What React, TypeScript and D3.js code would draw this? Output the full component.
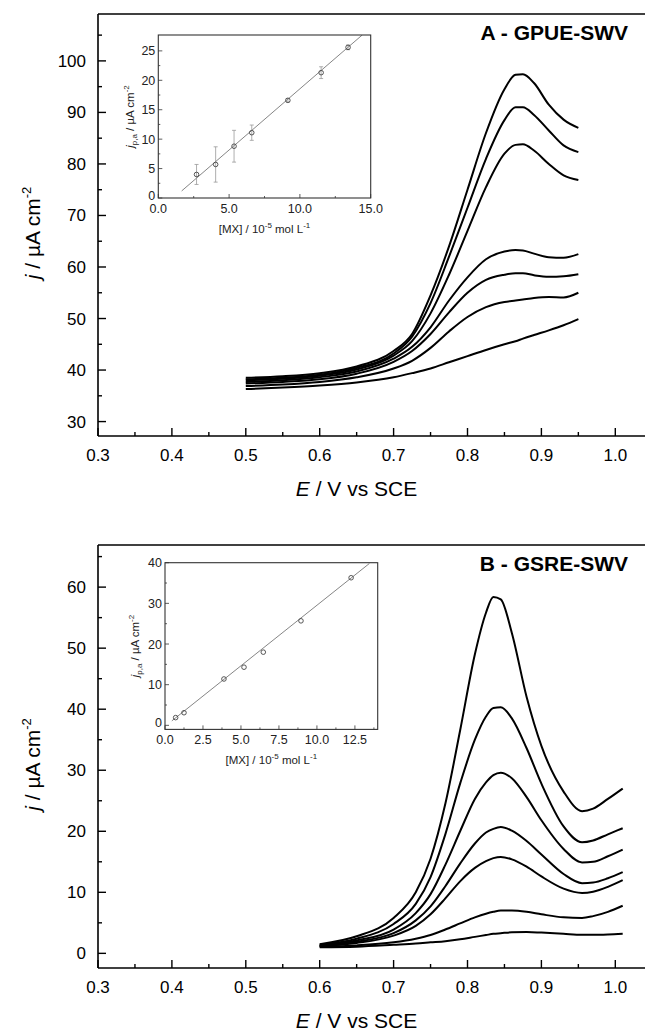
import React from 'react';
import * as d3 from 'd3';

// ---------- Panel A (GPUE-SWV) ----------
const A_E = [0.5, 0.55, 0.6, 0.65, 0.7, 0.725, 0.75, 0.775, 0.8, 0.825, 0.85, 0.865, 0.875, 0.89, 0.91, 0.93, 0.95];
const A_J1 = [36.3, 36.6, 37.0, 37.6, 38.6, 39.4, 40.3, 41.5, 42.7, 43.9, 45.0, 45.6, 46.1, 46.8, 47.7, 48.7, 49.9];
const A_J2 = [36.9, 37.2, 37.7, 38.6, 40.3, 41.8, 44.3, 47.5, 50.3, 52.2, 53.2, 53.5, 53.7, 54.0, 54.2, 54.1, 55.0];
const A_J3 = [37.4, 37.7, 38.2, 39.3, 41.6, 43.7, 47.0, 51.2, 55.0, 57.5, 58.5, 58.8, 58.8, 58.4, 58.1, 58.2, 58.6];
const A_J4 = [37.7, 38.0, 38.6, 39.7, 42.2, 44.5, 48.3, 53.5, 58.0, 61.5, 63.0, 63.3, 63.2, 62.6, 61.9, 61.8, 62.5];
const A_J5 = [38.0, 38.3, 38.9, 40.1, 42.8, 45.6, 51.0, 58.5, 67.0, 75.5, 82.0, 83.7, 83.8, 82.6, 80.0, 77.8, 76.9];
const A_J6 = [38.2, 38.5, 39.1, 40.4, 43.2, 46.5, 53.0, 62.0, 71.5, 81.0, 88.5, 91.0, 91.0, 89.5, 86.5, 83.6, 82.3];
const A_J7 = [38.5, 38.8, 39.4, 40.7, 43.7, 47.0, 54.5, 64.0, 75.0, 86.0, 94.5, 97.3, 97.4, 95.7, 91.5, 88.6, 87.0];
const A_SERIES = [A_J1, A_J2, A_J3, A_J4, A_J5, A_J6, A_J7];

// ---------- Panel B (GSRE-SWV) ----------
const B_E = [0.6, 0.65, 0.7, 0.73, 0.75, 0.77, 0.79, 0.81, 0.825, 0.835, 0.845, 0.86, 0.88, 0.9, 0.93, 0.955, 0.97, 0.99, 1.01];
const B_J1 = [1.0, 1.1, 1.4, 1.6, 1.8, 2.0, 2.3, 2.7, 3.0, 3.2, 3.3, 3.45, 3.5, 3.4, 3.2, 3.05, 3.05, 3.1, 3.2];
const B_J2 = [1.1, 1.3, 1.8, 2.4, 3.0, 3.9, 4.9, 5.9, 6.5, 6.8, 7.0, 7.0, 6.8, 6.4, 5.9, 5.8, 6.1, 6.8, 7.8];
const B_J3 = [1.2, 1.7, 2.9, 4.5, 6.4, 9.0, 11.8, 14.0, 15.1, 15.6, 15.8, 15.4, 14.2, 12.6, 10.6, 9.9, 10.1, 10.9, 12.0];
const B_J4 = [1.2, 1.9, 3.3, 5.4, 7.7, 11.0, 14.7, 18.0, 19.8, 20.4, 20.7, 20.1, 18.4, 16.2, 13.0, 11.5, 11.6, 12.3, 13.3];
const B_J5 = [1.3, 2.1, 3.9, 6.6, 9.7, 14.5, 20.0, 25.3, 28.0, 29.2, 29.6, 28.7, 25.6, 21.8, 17.1, 14.9, 15.0, 15.9, 17.0];
const B_J6 = [1.4, 2.4, 4.8, 8.1, 12.5, 19.5, 27.8, 35.0, 38.8, 40.2, 40.3, 38.5, 33.6, 27.8, 20.8, 18.2, 18.5, 19.5, 20.5];
const B_J7 = [1.5, 2.8, 5.8, 10.0, 15.5, 24.5, 36.5, 49.0, 55.8, 58.4, 58.0, 52.5, 42.0, 34.0, 26.5, 23.3, 23.7, 25.3, 27.0];
const B_SERIES = [B_J1, B_J2, B_J3, B_J4, B_J5, B_J6, B_J7];

// ---------- Insets ----------
const INA_X = [2.7, 4.05, 5.35, 6.6, 9.15, 11.5, 13.4];
const INA_Y = [4.0, 5.7, 8.8, 11.1, 16.6, 21.3, 25.6];
const INA_ERR = [1.7, 3.0, 2.7, 1.3, 0.3, 1.0, 0.4];
const INA_FIT_X = [1.65, 14.4];
const INA_FIT_Y = [1.2, 27.7];

const INB_X = [0.7, 1.25, 3.88, 5.2, 6.47, 8.95, 12.25];
const INB_Y = [1.9, 3.1, 11.4, 14.3, 18.0, 25.7, 36.3];
const INB_FIT_X = [0.45, 13.45];
const INB_FIT_Y = [1.1, 39.8];

// ticks
const X_MAJOR = [0.3, 0.4, 0.5, 0.6, 0.7, 0.8, 0.9, 1.0];
const X_MINOR = [0.35, 0.45, 0.55, 0.65, 0.75, 0.85, 0.95, 1.05];
const A_Y_MAJOR = [30, 40, 50, 60, 70, 80, 90, 100];
const A_Y_MINOR = [35, 45, 55, 65, 75, 85, 95, 105];
const B_Y_MAJOR = [0, 10, 20, 30, 40, 50, 60];
const B_Y_MINOR = [5, 15, 25, 35, 45, 55, 65];
const INA_X_MAJOR = [0, 5, 10, 15];
const INA_X_MINOR = [2.5, 7.5, 12.5];
const INA_Y_MAJOR = [0, 5, 10, 15, 20, 25];
const INA_Y_MINOR = [2.5, 7.5, 12.5, 17.5, 22.5];
const INB_X_MAJOR = [0, 2.5, 5, 7.5, 10, 12.5];
const INB_X_MINOR = [1.25, 3.75, 6.25, 8.75, 11.25, 13.75];
const INB_Y_MAJOR = [0, 10, 20, 30, 40];
const INB_Y_MINOR = [5, 15, 25, 35];

const FONT = '"Liberation Sans", Arial, sans-serif';
const W = 645;
const H = 1035;

type PanelProps = {
  top: number;
  bottom: number;
  yDomain: [number, number];
  yMajor: number[];
  yMinor: number[];
  E: number[];
  series: number[][];
  title: string;
  id: string;
};

function MainPanel(p: PanelProps) {
  const left = 98;
  const x = d3.scaleLinear().domain([0.3, 1.0]).range([left, 615.3]);
  const y = d3.scaleLinear().domain(p.yDomain).range([p.bottom, p.top]);
  const line = d3
    .line<[number, number]>()
    .x((d) => x(d[0]))
    .y((d) => y(d[1]))
    .curve(d3.curveMonotoneX);
  const yMid = (p.top + p.bottom) / 2 + 8;
  return (
    <g>
      <defs>
        <clipPath id={p.id}>
          <rect x={left} y={p.top} width={W - left} height={p.bottom - p.top} />
        </clipPath>
      </defs>
      <g clipPath={`url(#${p.id})`}>
        {p.series.map((s, i) => (
          <path
            key={i}
            d={line(p.E.map((e, k) => [e, s[k]] as [number, number])) || ''}
            fill="none"
            stroke="#000"
            strokeWidth={2}
            strokeLinejoin="round"
          />
        ))}
      </g>
      {/* frame */}
      <line x1={left} x2={W} y1={p.top} y2={p.top} stroke="#000" strokeWidth={1.6} />
      <line x1={left} x2={W} y1={p.bottom} y2={p.bottom} stroke="#000" strokeWidth={1.6} />
      <line x1={left} x2={left} y1={p.top} y2={p.bottom} stroke="#000" strokeWidth={1.6} />
      {/* x ticks */}
      {X_MAJOR.map((v) => (
        <g key={'xM' + v}>
          <line x1={x(v)} x2={x(v)} y1={p.bottom} y2={p.bottom - 8} stroke="#000" strokeWidth={1.4} />
          <text x={x(v)} y={p.bottom + 25} fontSize={17} textAnchor="middle" fontFamily={FONT}>
            {v.toFixed(1)}
          </text>
        </g>
      ))}
      {X_MINOR.map((v) => (
        <line key={'xm' + v} x1={x(v)} x2={x(v)} y1={p.bottom} y2={p.bottom - 4} stroke="#000" strokeWidth={1.4} />
      ))}
      {/* y ticks */}
      {p.yMajor.map((v) => (
        <g key={'yM' + v}>
          <line x1={left} x2={left + 8} y1={y(v)} y2={y(v)} stroke="#000" strokeWidth={1.4} />
          <text x={left - 12} y={y(v) + 6} fontSize={17} textAnchor="end" fontFamily={FONT}>
            {v}
          </text>
        </g>
      ))}
      {p.yMinor.map((v) =>
        y(v) >= p.top ? (
          <line key={'ym' + v} x1={left} x2={left + 4} y1={y(v)} y2={y(v)} stroke="#000" strokeWidth={1.4} />
        ) : null
      )}
      {/* axis titles */}
      <text x={(left + 615) / 2} y={p.bottom + 60} fontSize={21} textAnchor="middle" fontFamily={FONT}>
        <tspan fontStyle="italic">E</tspan>
        <tspan>{'  / V vs SCE'}</tspan>
      </text>
      <text
        transform={`translate(40,${yMid}) rotate(-90)`}
        fontSize={21}
        textAnchor="middle"
        fontFamily={FONT}
      >
        <tspan fontStyle="italic">j</tspan>
        <tspan>{' / \u00B5A cm'}</tspan>
        <tspan fontSize={13} dy={-9}>-2</tspan>
      </text>
      <text x={628} y={p.top + 26} fontSize={21} fontWeight="bold" textAnchor="end" fontFamily={FONT}>
        {p.title}
      </text>
    </g>
  );
}

type InsetProps = {
  x0: number;
  x1: number;
  y0: number;
  y1: number;
  xDomain: [number, number];
  yDomain: [number, number];
  xMajor: number[];
  xMinor: number[];
  yMajor: number[];
  yMinor: number[];
  px: number[];
  py: number[];
  err?: number[];
  fitX: number[];
  fitY: number[];
  yTitleX: number;
  id: string;
};

function Inset(p: InsetProps) {
  const x = d3.scaleLinear().domain(p.xDomain).range([p.x0, p.x1]);
  const y = d3.scaleLinear().domain(p.yDomain).range([p.y1, p.y0]);
  const fit = d3
    .line<[number, number]>()
    .x((d) => x(d[0]))
    .y((d) => y(d[1]));
  const yMid = (p.y0 + p.y1) / 2;
  return (
    <g>
      <defs>
        <clipPath id={p.id}>
          <rect x={p.x0} y={p.y0} width={p.x1 - p.x0} height={p.y1 - p.y0} />
        </clipPath>
      </defs>
      <g clipPath={`url(#${p.id})`}>
        <path
          d={fit(p.fitX.map((v, i) => [v, p.fitY[i]] as [number, number])) || ''}
          stroke="#666"
          strokeWidth={0.8}
          fill="none"
        />
        {p.err &&
          p.px.map((v, i) => (
            <g key={'e' + i} stroke="#999" strokeWidth={0.8}>
              <line x1={x(v)} x2={x(v)} y1={y(p.py[i] - p.err![i])} y2={y(p.py[i] + p.err![i])} />
              <line x1={x(v) - 2} x2={x(v) + 2} y1={y(p.py[i] - p.err![i])} y2={y(p.py[i] - p.err![i])} />
              <line x1={x(v) - 2} x2={x(v) + 2} y1={y(p.py[i] + p.err![i])} y2={y(p.py[i] + p.err![i])} />
            </g>
          ))}
        {p.px.map((v, i) => (
          <circle key={'c' + i} cx={x(v)} cy={y(p.py[i])} r={2.3} fill="none" stroke="#444" strokeWidth={0.9} />
        ))}
      </g>
      <rect x={p.x0} y={p.y0} width={p.x1 - p.x0} height={p.y1 - p.y0} fill="none" stroke="#333" strokeWidth={1.1} />
      {p.xMajor.map((v) => (
        <g key={'ixM' + v}>
          <line x1={x(v)} x2={x(v)} y1={p.y1} y2={p.y1 - 4} stroke="#333" strokeWidth={0.8} />
          <text x={x(v)} y={p.y1 + 15} fontSize={12.5} textAnchor="middle" fontFamily={FONT} fill="#222">
            {v.toFixed(1)}
          </text>
        </g>
      ))}
      {p.xMinor.map((v) =>
        x(v) <= p.x1 ? (
          <line key={'ixm' + v} x1={x(v)} x2={x(v)} y1={p.y1} y2={p.y1 - 2} stroke="#333" strokeWidth={0.8} />
        ) : null
      )}
      {p.yMajor.map((v) => (
        <g key={'iyM' + v}>
          <line x1={p.x0} x2={p.x0 + 4} y1={y(v)} y2={y(v)} stroke="#333" strokeWidth={0.8} />
          <text
            x={p.x0 - 3}
            y={y(v) + 4.5 - (v === 0 ? 3 : 0)}
            fontSize={12.5}
            textAnchor="end"
            fontFamily={FONT}
            fill="#222"
          >
            {v}
          </text>
        </g>
      ))}
      {p.yMinor.map((v) => (
        <line key={'iym' + v} x1={p.x0} x2={p.x0 + 2} y1={y(v)} y2={y(v)} stroke="#333" strokeWidth={0.8} />
      ))}
      <text x={(p.x0 + p.x1) / 2} y={p.y1 + 35} fontSize={11.5} textAnchor="middle" fontFamily={FONT} fill="#222">
        <tspan>{'[MX] / 10'}</tspan>
        <tspan fontSize={8} dy={-5}>-5</tspan>
        <tspan dy={5}>{' mol L'}</tspan>
        <tspan fontSize={8} dy={-5}>-1</tspan>
      </text>
      <text
        transform={`translate(${p.yTitleX},${yMid}) rotate(-90)`}
        fontSize={11.5}
        textAnchor="middle"
        fontFamily={FONT}
        fill="#222"
      >
        <tspan fontStyle="italic">j</tspan>
        <tspan fontSize={8} dy={3}>p,a</tspan>
        <tspan dy={-3}>{' / \u00B5A cm'}</tspan>
        <tspan fontSize={8} dy={-5}>-2</tspan>
      </text>
    </g>
  );
}

export default function App() {
  return (
    <svg
      width={W}
      height={H}
      style={{ position: 'absolute', left: 0, top: 0, background: '#fff' }}
      fontFamily={FONT}
    >
      <rect x={0} y={0} width={W} height={H} fill="#fff" />
      <MainPanel
        id="clipA"
        top={14}
        bottom={436}
        yDomain={[27.2, 109.1]}
        yMajor={A_Y_MAJOR}
        yMinor={A_Y_MINOR}
        E={A_E}
        series={A_SERIES}
        title="A - GPUE-SWV"
      />
      <MainPanel
        id="clipB"
        top={545}
        bottom={968}
        yDomain={[-2.4, 66.9]}
        yMajor={B_Y_MAJOR}
        yMinor={B_Y_MINOR}
        E={B_E}
        series={B_SERIES}
        title="B - GSRE-SWV"
      />
      <Inset
        id="clipIA"
        x0={158.3}
        x1={370.7}
        y0={35}
        y1={198}
        xDomain={[0, 15]}
        yDomain={[0, 27.7]}
        xMajor={INA_X_MAJOR}
        xMinor={INA_X_MINOR}
        yMajor={INA_Y_MAJOR}
        yMinor={INA_Y_MINOR}
        px={INA_X}
        py={INA_Y}
        err={INA_ERR}
        fitX={INA_FIT_X}
        fitY={INA_FIT_Y}
        yTitleX={134}
      />
      <Inset
        id="clipIB"
        x0={165}
        x1={377.7}
        y0={562.7}
        y1={729.4}
        xDomain={[0, 14]}
        yDomain={[-1, 40]}
        xMajor={INB_X_MAJOR}
        xMinor={INB_X_MINOR}
        yMajor={INB_Y_MAJOR}
        yMinor={INB_Y_MINOR}
        px={INB_X}
        py={INB_Y}
        fitX={INB_FIT_X}
        fitY={INB_FIT_Y}
        yTitleX={139}
      />
    </svg>
  );
}
